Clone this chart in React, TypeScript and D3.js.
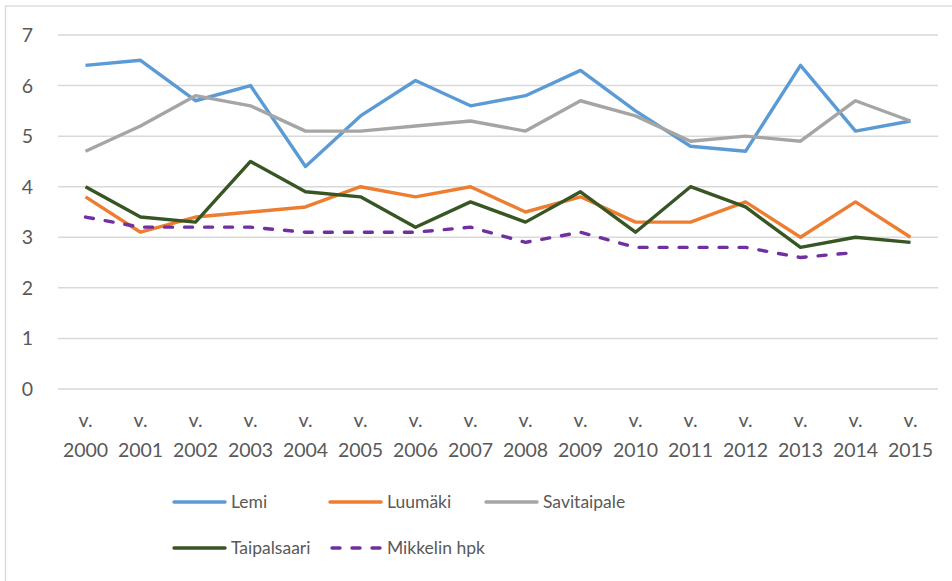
import React from 'react';
import * as d3 from 'd3';

const years = ['2000', '2001', '2002', '2003', '2004', '2005', '2006', '2007', '2008', '2009', '2010', '2011', '2012', '2013', '2014', '2015'];

const lemi = [6.4, 6.5, 5.7, 6.0, 4.4, 5.4, 6.1, 5.6, 5.8, 6.3, 5.5, 4.8, 4.7, 6.4, 5.1, 5.3];
const luumaki = [3.8, 3.1, 3.4, 3.5, 3.6, 4.0, 3.8, 4.0, 3.5, 3.8, 3.3, 3.3, 3.7, 3.0, 3.7, 3.0];
const savitaipale = [4.7, 5.2, 5.8, 5.6, 5.1, 5.1, 5.2, 5.3, 5.1, 5.7, 5.4, 4.9, 5.0, 4.9, 5.7, 5.3];
const taipalsaari = [4.0, 3.4, 3.3, 4.5, 3.9, 3.8, 3.2, 3.7, 3.3, 3.9, 3.1, 4.0, 3.6, 2.8, 3.0, 2.9];
const mikkeli = [3.4, 3.2, 3.2, 3.2, 3.1, 3.1, 3.1, 3.2, 2.9, 3.1, 2.8, 2.8, 2.8, 2.6, 2.7, null];

const yTicks = [0, 1, 2, 3, 4, 5, 6, 7];

const series = [
  { name: 'Lemi', values: lemi, color: '#5B9BD5', dash: null },
  { name: 'Luumäki', values: luumaki, color: '#ED7D31', dash: null },
  { name: 'Savitaipale', values: savitaipale, color: '#A5A5A5', dash: null },
  { name: 'Taipalsaari', values: taipalsaari, color: '#375623', dash: null },
  { name: 'Mikkelin hpk', values: mikkeli, color: '#7030A0', dash: '8 12' }
];

const width = 952,
  height = 581;
const font = 'Lato, "Open Sans", sans-serif';

export default function App() {
  const x = d3.scaleBand().domain(years).range([58, 938]);
  const y = d3.scaleLinear().domain([0, 7]).range([389, 35]);

  const line = d3
    .line<number | null>()
    .defined(d => d != null)
    .x((d, i) => x(years[i])! + x.bandwidth() / 2)
    .y(d => y(d as number));

  // legend layout: two rows, three columns
  const legendPos = (i: number) => ({
    lx: [174, 330, 486][i % 3],
    ly: [502, 548][Math.floor(i / 3)]
  });

  return (
    <svg width={width} height={height} style={{ position: 'absolute', left: 0, top: 0, background: '#fff' }}>
      <rect x={5.5} y={6} width={width} height={height} fill="#fff" stroke="#D9D9D9" strokeWidth={1.3} />

      {yTicks.map(t => (
        <g key={t}>
          <line x1={58} x2={938} y1={y(t)} y2={y(t)} stroke="#D9D9D9" strokeWidth={1.5} />
          <text x={33} y={y(t)} dy="0.36em" textAnchor="end" fontFamily={font} fontSize={19.5} fill="#595959">
            {t}
          </text>
        </g>
      ))}

      {years.map(yr => (
        <text key={yr} x={x(yr)! + x.bandwidth() / 2} textAnchor="middle" fontFamily={font} fontSize={19.5} fill="#595959">
          <tspan x={x(yr)! + x.bandwidth() / 2} y={427}>v.</tspan>
          <tspan x={x(yr)! + x.bandwidth() / 2} y={457}>{yr}</tspan>
        </text>
      ))}

      {series.map(s => (
        <path
          key={s.name}
          d={line(s.values) || ''}
          fill="none"
          stroke={s.color}
          strokeWidth={3.4}
          strokeLinejoin="round"
          strokeLinecap={s.dash ? 'round' : 'butt'}
          strokeDasharray={s.dash || undefined}
        />
      ))}

      {series.map((s, i) => {
        const { lx, ly } = legendPos(i);
        return (
          <g key={s.name}>
            <line
              x1={lx + (s.dash ? 2 : 0)}
              x2={lx + 51}
              y1={ly}
              y2={ly}
              stroke={s.color}
              strokeWidth={3.4}
              strokeLinecap="round"
              strokeDasharray={s.dash || undefined}
            />
            <text x={lx + 57} y={ly} dy="0.36em" fontFamily={font} fontSize={17.5} fill="#595959">
              {s.name}
            </text>
          </g>
        );
      })}
    </svg>
  );
}
